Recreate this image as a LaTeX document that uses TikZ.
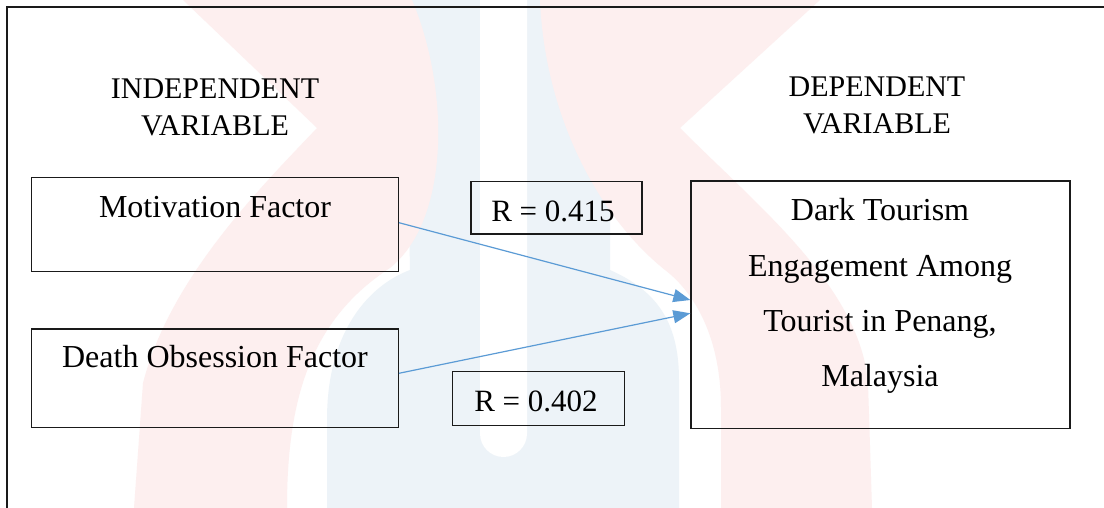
\documentclass[tikz,border=0pt]{standalone}
\usepackage{fontspec}
\setmainfont{Liberation Serif}
\usetikzlibrary{arrows.meta}
\definecolor{wmred}{RGB}{253,239,239}
\definecolor{wmblue}{RGB}{237,243,248}
\definecolor{arrblue}{RGB}{91,155,213}
\definecolor{ink}{RGB}{26,26,26}
\tikzset{
  box/.style={draw=ink, line width=1.3pt, rectangle, inner sep=0pt},
  txt/.style={inner sep=0pt, anchor=base, text=black, font=\fontsize{32}{38}\selectfont},
  head/.style={inner sep=0pt, anchor=base, text=black, font=\fontsize{30}{36}\selectfont},
  rtxt/.style={inner sep=0pt, anchor=base, text=black, font=\fontsize{31}{37}\selectfont},
  arr/.style={draw=arrblue, line width=1.2pt, -{Triangle[length=17pt,width=13pt]}},
  frame/.style={draw=ink, line width=2pt}
}
\begin{document}
\begin{tikzpicture}[x=1pt,y=1pt]
\useasboundingbox (0,0) rectangle (1104,508);
\fill[white] (0,0) rectangle (1104,508);
% watermark
\fill[wmblue] (327,0) -- (327,88) .. controls (327,178) and (370,223) .. (410,238) -- (405,508) -- (610,508) -- (610,238) .. controls (655,218) and (679,188) .. (679,128) -- (679,0) -- cycle;
\fill[wmred] (183,508) -- (412,508) .. controls (450,418) and (450,288) .. (390,240) .. controls (310,188) and (287,108) .. (287,0) -- (134,0) -- (143,125) .. controls (170,230) and (260,320) .. (317,380) -- cycle;
\fill[wmred] (540,508) -- (820,508) -- (680,380) .. controls (760,300) and (860,220) .. (868,125) -- (872,0) -- (721,0) -- (721,100) .. controls (721,170) and (695,215) .. (665,238) .. controls (600,290) and (545,390) .. (540,508) -- cycle;
\fill[white] (480,508) -- (480,74.5) arc[start angle=180,end angle=360,radius=23.5] -- (527,508) -- cycle;
% frame
\draw[frame] (7.3,0) -- (7.3,501.3) -- (1104,501.3);
% headings
\node[head] (ind1) at (215,409) {INDEPENDENT};
\node[head] (ind2) at (215,372) {VARIABLE};
\node[head] (dep1) at (877,411) {DEPENDENT};
\node[head] (dep2) at (877,374) {VARIABLE};
% boxes
\node[box, minimum width=366.6pt, minimum height=94pt] (mot) at (215,283.3) {};
\node[txt] (motT) at (215,290) {Motivation Factor};
\node[box, minimum width=366.6pt, minimum height=98.7pt] (death) at (215,129.7) {};
\node[txt] (deathT) at (215,140) {Death Obsession Factor};
\node[box, minimum width=171pt, minimum height=52.3pt] (r1) at (556.5,300.2) {};
\node[rtxt] (r1T) at (553,286.3) {R = 0.415};
\node[box, minimum width=171.6pt, minimum height=54pt] (r2) at (538.5,109.3) {};
\node[rtxt] (r2T) at (536,96.3) {R = 0.402};
\node[box, minimum width=379pt, minimum height=247.3pt] (dep) at (880.5,203.3) {};
\node[txt] (dT1) at (880,287.3) {Dark Tourism};
\node[txt] (dT2) at (880,231.3) {Engagement Among};
\node[txt] (dT3) at (880,176.3) {Tourist in Penang,};
\node[txt] (dT4) at (880,121.3) {Malaysia};
% connectors
\draw[arr] ([yshift=2pt]mot.east) -- ([yshift=4.7pt]dep.west);
\draw[arr] ([yshift=5pt]death.east) -- ([yshift=-8.6pt]dep.west);
\end{tikzpicture}
\end{document}
